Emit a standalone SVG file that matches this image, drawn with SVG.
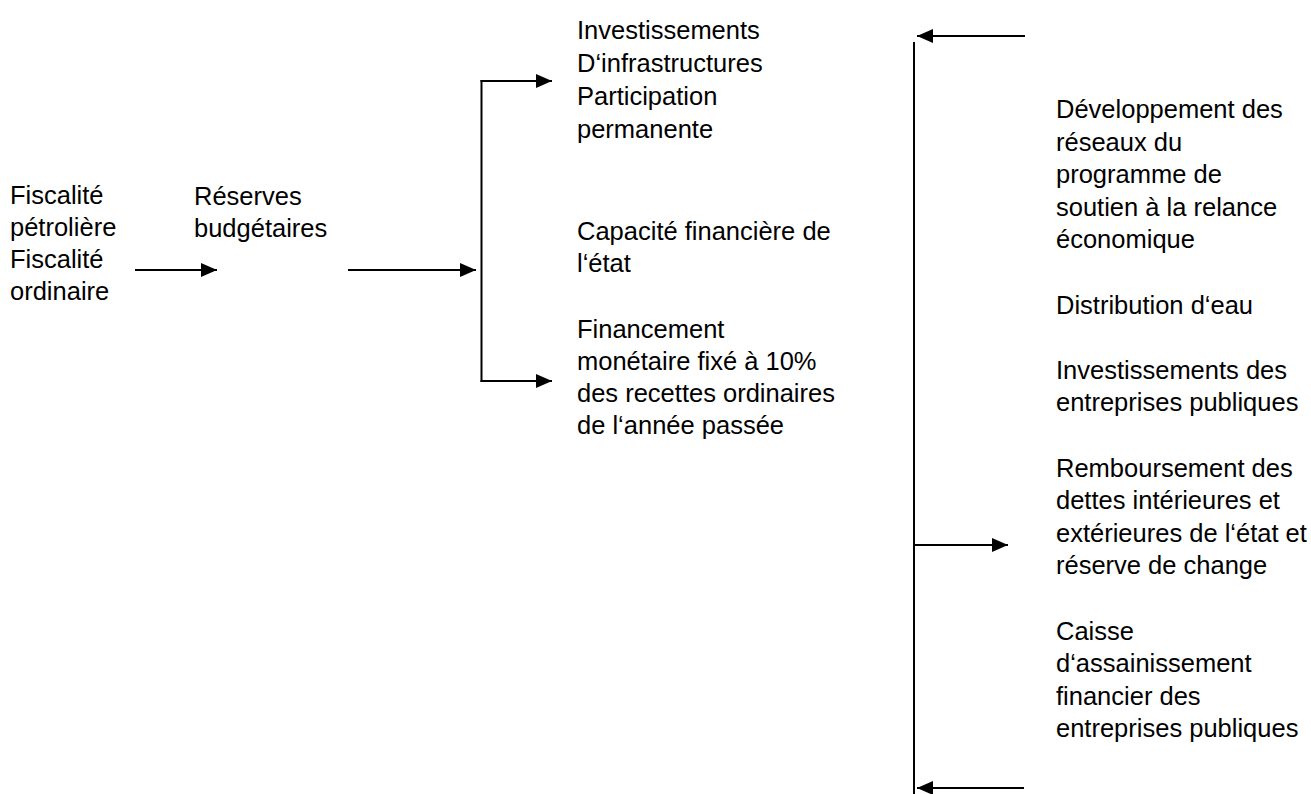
<svg xmlns="http://www.w3.org/2000/svg" width="1311" height="794" viewBox="0 0 1311 794">
<style>
text { font-family: "Liberation Sans", Arial, sans-serif; font-size: 25.5px; fill: #000; }
.c { stroke: #000; stroke-width: 2; fill: none; }
.a { stroke: #000; stroke-width: 2; fill: none; marker-end: url(#ah); }
</style>
<defs>
<marker id="ah" markerUnits="userSpaceOnUse" markerWidth="16" markerHeight="14" refX="16" refY="7" orient="auto">
<path d="M0,0 L16,7 L0,14 Z" fill="#000"/>
</marker>
</defs>
<rect width="1311" height="794" fill="#fff"/>
<g id="fiscalite">
<text x="10" y="204">Fiscalité</text>
<text x="10" y="236">pétrolière</text>
<text x="10" y="268">Fiscalité</text>
<text x="10" y="300">ordinaire</text>
</g>
<g id="reserves">
<text x="194" y="205">Réserves</text>
<text x="194" y="237">budgétaires</text>
</g>
<g id="investissements">
<text x="577" y="39">Investissements</text>
<text x="577" y="72">D‘infrastructures</text>
<text x="577" y="105">Participation</text>
<text x="577" y="138">permanente</text>
</g>
<g id="capacite">
<text x="577" y="240">Capacité financière de</text>
<text x="577" y="272">l‘état</text>
</g>
<g id="financement">
<text x="577" y="338">Financement</text>
<text x="577" y="370">monétaire fixé à 10%</text>
<text x="577" y="402">des recettes ordinaires</text>
<text x="577" y="434">de l‘année passée</text>
</g>
<g id="developpement">
<text x="1056" y="118">Développement des</text>
<text x="1056" y="150.6">réseaux du</text>
<text x="1056" y="183.2">programme  de</text>
<text x="1056" y="215.8">soutien à la relance</text>
<text x="1056" y="248.4">économique</text>
</g>
<g id="distribution">
<text x="1056" y="313.6">Distribution d‘eau</text>
</g>
<g id="invest-entreprises">
<text x="1056" y="378.8">Investissements des</text>
<text x="1056" y="411.4">entreprises publiques</text>
</g>
<g id="remboursement">
<text x="1056" y="476.6">Remboursement des</text>
<text x="1056" y="509.2">dettes intérieures et</text>
<text x="1056" y="541.8">extérieures de l‘état et</text>
<text x="1056" y="574.4">réserve de change</text>
</g>
<g id="caisse">
<text x="1056" y="639.6">Caisse</text>
<text x="1056" y="672.2">d‘assainissement</text>
<text x="1056" y="704.8">financier des</text>
<text x="1056" y="737.4">entreprises publiques</text>
</g>
<g id="connectors">
<line class="a" x1="135" y1="270" x2="217" y2="270"/>
<line class="a" x1="348" y1="270" x2="476" y2="270"/>
<line class="c" x1="481.5" y1="80" x2="481.5" y2="382"/>
<line class="a" x1="480.5" y1="81" x2="552" y2="81"/>
<line class="a" x1="480.5" y1="381" x2="552" y2="381"/>
<line class="c" x1="914" y1="42" x2="914" y2="794"/>
<line class="a" x1="1025" y1="36" x2="917" y2="36"/>
<line class="a" x1="913" y1="545" x2="1008" y2="545"/>
<line class="a" x1="1024" y1="788" x2="917" y2="788"/>
</g>
</svg>
